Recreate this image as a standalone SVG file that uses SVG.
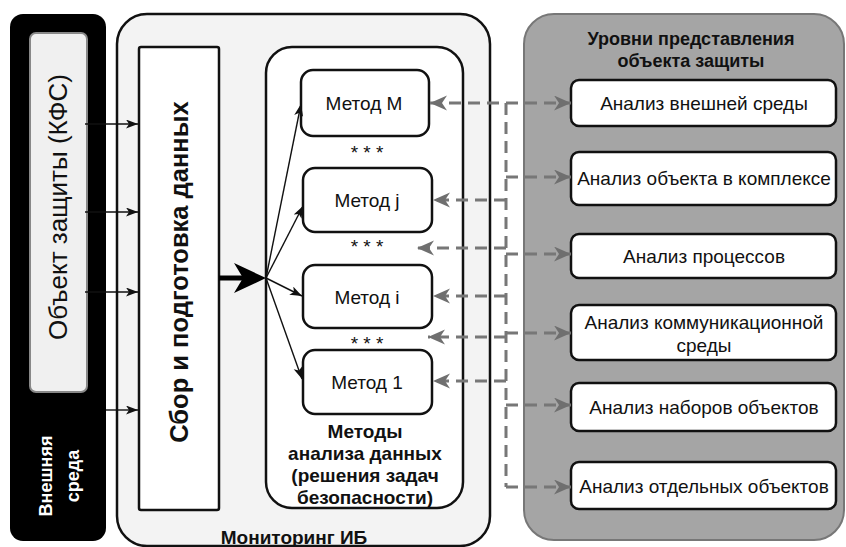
<svg xmlns="http://www.w3.org/2000/svg" width="846" height="547" viewBox="0 0 846 547">
<defs>
<style>
text{font-family:"Liberation Sans",Arial,sans-serif;fill:#111}
.b{font-weight:bold}
.box{fill:#fff;stroke:#111;stroke-width:2.5}
.dash{fill:none;stroke:#777;stroke-width:3;stroke-dasharray:12 7}
.thin{fill:none;stroke:#111;stroke-width:1.4}
.m{font-size:19px;text-anchor:middle}
.star{font-size:19px;text-anchor:middle}
</style>
<marker id="ga" markerUnits="userSpaceOnUse" markerWidth="18" markerHeight="16" refX="17" refY="7.5" orient="auto-start-reverse">
<path d="M0,0 L17,7.5 L0,15 L5,7.5 z" fill="#6f6f6f"/>
</marker>
<marker id="ba" markerUnits="userSpaceOnUse" markerWidth="13" markerHeight="10" refX="12" refY="4.5" orient="auto">
<path d="M0,0 L12,4.5 L0,9 L3,4.5 z" fill="#111"/>
</marker>
</defs>

<g id="vneshnyaya-sreda">
<rect x="10" y="14" width="96" height="527" rx="13" fill="#000"/>
<text class="b" transform="translate(52,476) rotate(-90)" text-anchor="middle" style="fill:#fff;font-size:18px">Внешняя</text>
<text class="b" transform="translate(79,476) rotate(-90)" text-anchor="middle" style="fill:#fff;font-size:18px">среда</text>
</g>

<g id="obekt">
<rect x="30" y="33" width="57" height="359" rx="6" fill="#f0f0f0" stroke="#888" stroke-width="2"/>
<text transform="translate(67,207) rotate(-90)" text-anchor="middle" style="font-size:26px">Объект защиты (КФС)</text>
</g>

<g id="monitoring">
<path d="M147,14 H460 A30,30 0 0 1 490,44 V516 A30,30 0 0 1 460,546 H147 A30,30 0 0 1 117,516 V44 A30,30 0 0 1 147,14 Z" fill="#f3f3f3" stroke="#111" stroke-width="2.5"/>
<text class="b" x="294" y="544" text-anchor="middle" style="font-size:19px">Мониторинг ИБ</text>
</g>

<g id="sbor">
<rect x="139" y="47" width="80" height="463" rx="2" class="box"/>
<text class="b" transform="translate(188,272) rotate(-90)" text-anchor="middle" style="font-size:25.5px">Сбор и подготовка данных</text>
</g>

<g id="metody">
<rect x="266" y="47" width="197" height="461" rx="26" class="box"/>
<text class="b" text-anchor="middle" style="font-size:19px"><tspan x="365" y="438">Методы</tspan><tspan x="365" y="460">анализа данных</tspan><tspan x="365" y="482">(решения задач</tspan><tspan x="365" y="504">безопасности)</tspan></text>
</g>

<g id="metod-m">
<rect x="301" y="70" width="128" height="66" rx="12" class="box"/>
<text class="m" x="364" y="110">Метод M</text>
</g>
<g id="metod-j">
<rect x="303" y="168" width="129" height="64" rx="12" class="box"/>
<text class="m" x="367" y="207">Метод j</text>
</g>
<g id="metod-i">
<rect x="303" y="265" width="129" height="63" rx="12" class="box"/>
<text class="m" x="367" y="304">Метод i</text>
</g>
<g id="metod-1">
<rect x="303" y="350" width="129" height="64" rx="12" class="box"/>
<text class="m" x="367" y="389">Метод 1</text>
</g>
<g id="stars">
<text class="star" x="367" y="159">* * *</text>
<text class="star" x="367" y="253">* * *</text>
<text class="star" x="367" y="350">* * *</text>
</g>

<g id="urovni">
<path d="M554,14 H814 A30,30 0 0 1 844,44 V510 A30,30 0 0 1 814,540 H554 A30,30 0 0 1 524,510 V44 A30,30 0 0 1 554,14 Z" fill="#a5a5a5" stroke="#777" stroke-width="2"/>
<text class="b" text-anchor="middle" style="font-size:18px"><tspan x="691" y="45">Уровни представления</tspan><tspan x="691" y="67">объекта защиты</tspan></text>
</g>
<g id="u1">
<rect x="571" y="80" width="265" height="46" rx="8" class="box"/>
<text class="m" x="704" y="110">Анализ внешней среды</text>
</g>
<g id="u2">
<rect x="571" y="152" width="265" height="53" rx="8" class="box"/>
<text class="m" x="704" y="185">Анализ объекта в комплексе</text>
</g>
<g id="u3">
<rect x="571" y="234" width="265" height="44" rx="8" class="box"/>
<text class="m" x="704" y="263">Анализ процессов</text>
</g>
<g id="u4">
<rect x="571" y="305" width="265" height="55" rx="8" class="box"/>
<text class="m"><tspan x="704" y="329">Анализ коммуникационной</tspan><tspan x="704" y="352">среды</tspan></text>
</g>
<g id="u5">
<rect x="571" y="383" width="265" height="48" rx="8" class="box"/>
<text class="m" x="704" y="414">Анализ наборов объектов</text>
</g>
<g id="u6">
<rect x="571" y="462" width="265" height="47" rx="8" class="box"/>
<text class="m" x="704" y="493">Анализ отдельных объектов</text>
</g>

<g id="connectors">
<line class="thin" x1="85" y1="124" x2="138" y2="124" marker-end="url(#ba)"/>
<line class="thin" x1="85" y1="212" x2="138" y2="212" marker-end="url(#ba)"/>
<line class="thin" x1="85" y1="292" x2="138" y2="292" marker-end="url(#ba)"/>
<line class="thin" x1="106" y1="410" x2="138" y2="410" marker-end="url(#ba)"/>
<line x1="219" y1="278" x2="245" y2="278" stroke="#000" stroke-width="5"/>
<path d="M266,278 L234,263 L243,278 L234,293 Z" fill="#000"/>
<line class="thin" x1="266" y1="278" x2="301" y2="104" marker-end="url(#ba)"/>
<line class="thin" x1="266" y1="278" x2="303" y2="206" marker-end="url(#ba)"/>
<line class="thin" x1="266" y1="278" x2="302" y2="296" marker-end="url(#ba)"/>
<line class="thin" x1="266" y1="278" x2="302" y2="379" marker-end="url(#ba)"/>
<path class="dash" d="M430,103 H571" marker-start="url(#ga)" marker-end="url(#ga)"/>
<path class="dash" d="M506,103 V487"/>
<path class="dash" d="M506,177 H571" marker-end="url(#ga)"/>
<path class="dash" d="M506,254 H571" marker-end="url(#ga)"/>
<path class="dash" d="M506,333 H571" marker-end="url(#ga)"/>
<path class="dash" d="M506,405 H571" marker-end="url(#ga)"/>
<path class="dash" d="M506,487 H571" marker-end="url(#ga)"/>
<path class="dash" d="M506,200 H433" marker-end="url(#ga)"/>
<path class="dash" d="M506,248 H417" marker-end="url(#ga)"/>
<path class="dash" d="M506,296 H433" marker-end="url(#ga)"/>
<path class="dash" d="M506,337 H428" marker-end="url(#ga)"/>
<path class="dash" d="M506,381 H433" marker-end="url(#ga)"/>
</g>
</svg>
